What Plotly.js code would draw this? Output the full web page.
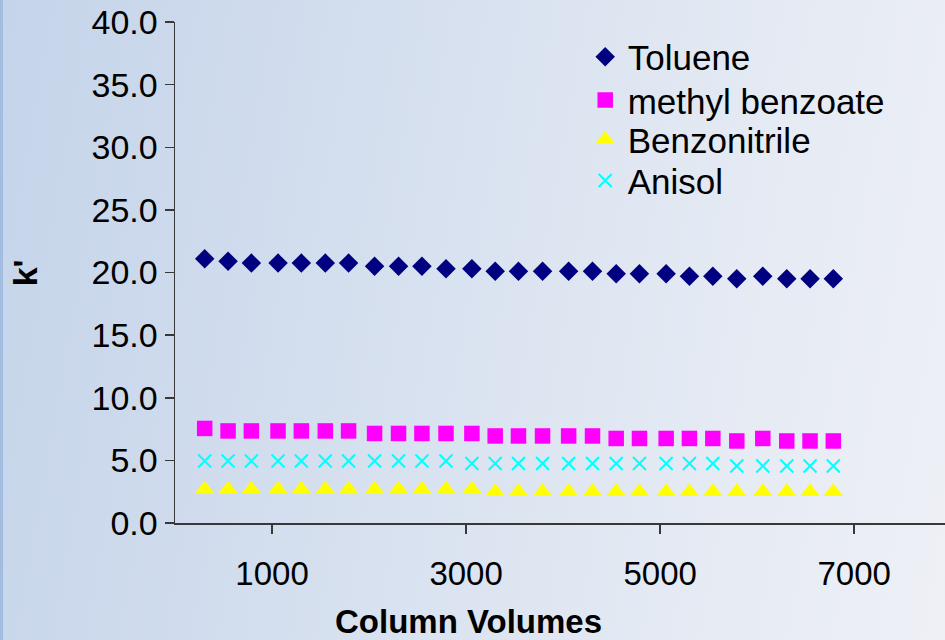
<!DOCTYPE html>
<html>
<head>
<meta charset="utf-8">
<script src="https://cdn.plot.ly/plotly-3.0.1.min.js"></script>
<style>
  html, body { margin: 0; padding: 0; width: 945px; height: 640px; overflow: hidden; }
  body {
    background: linear-gradient(100deg, #c5d4ea 0%, #d3deee 35%, #e3e9f3 70%, #eef0f6 100%);
  }
  #edge { position: absolute; left: 0; top: 0; width: 3px; height: 640px; background: #a3bde0; }
  #chart { position: absolute; left: 0; top: 0; width: 945px; height: 640px; }
</style>
</head>
<body>
<div id="edge"></div>
<div id="chart"></div>
<script>
// Column volumes (x) shared by all series
const columnVolumes = [306, 547, 787, 1062, 1302, 1549, 1789, 2057, 2304, 2545, 2793, 3060, 3300, 3540,
  3788, 4057, 4303, 4547, 4787, 5062, 5302, 5543, 5790, 6058, 6305, 6545, 6785];

const toluene = [21.1, 20.9, 20.75, 20.75, 20.75, 20.75, 20.75, 20.5, 20.5, 20.5, 20.3, 20.3, 20.1, 20.1,
  20.1, 20.1, 20.1, 19.9, 19.9, 19.9, 19.7, 19.7, 19.5, 19.7, 19.5, 19.5, 19.5];

const methylBenzoate = [7.55, 7.35, 7.35, 7.35, 7.35, 7.35, 7.35, 7.15, 7.15, 7.15, 7.15, 7.15, 6.95, 6.95,
  6.95, 6.95, 6.95, 6.75, 6.75, 6.75, 6.75, 6.75, 6.55, 6.75, 6.55, 6.55, 6.55];

const benzonitrile = [2.7, 2.7, 2.7, 2.7, 2.7, 2.7, 2.7, 2.7, 2.7, 2.7, 2.7, 2.7, 2.5, 2.5,
  2.5, 2.5, 2.5, 2.5, 2.5, 2.5, 2.5, 2.5, 2.5, 2.5, 2.5, 2.5, 2.5];

const anisol = [4.95, 4.95, 4.95, 4.95, 4.95, 4.95, 4.95, 4.95, 4.95, 4.95, 4.95, 4.75, 4.75, 4.75,
  4.75, 4.75, 4.75, 4.75, 4.75, 4.75, 4.75, 4.75, 4.55, 4.55, 4.55, 4.55, 4.55];

const seriesNames = ["Toluene", "methyl benzoate", "Benzonitrile", "Anisol"];
const xTickVals = [1000, 3000, 5000, 7000];
const xTickText = ["1000", "3000", "5000", "7000"];
const xTitle = "Column Volumes";
const yTitle = "k'";

const FONT = "Arial, 'Liberation Sans', sans-serif";
const AX = "#383838";
const LEGSIZE = 35;

const traces = [
  { x: columnVolumes, y: toluene, name: seriesNames[0], type: "scatter", mode: "markers", legend: "legend",
    marker: { symbol: "diamond", size: 15, color: "#000080" } },
  { x: columnVolumes, y: methylBenzoate, name: seriesNames[1], type: "scatter", mode: "markers", legend: "legend2",
    marker: { symbol: "square", size: 15.5, color: "#ff00ff" } },
  { x: columnVolumes, y: benzonitrile, name: seriesNames[2], type: "scatter", mode: "markers", legend: "legend3",
    marker: { symbol: "triangle-up", size: 17, color: "#ffff00" } },
  { x: columnVolumes, y: anisol, name: seriesNames[3], type: "scatter", mode: "markers", legend: "legend4",
    marker: { symbol: "x-thin", size: 13, color: "#00ffff", line: { color: "#00ffff", width: 2 } } }
];

function leg(yc) {
  return {
    x: 0.5295, y: yc, xanchor: "left", yanchor: "middle",
    bgcolor: "rgba(0,0,0,0)", borderwidth: 0,
    font: { family: FONT, size: LEGSIZE, color: "#000" },
    itemwidth: 35
  };
}

const layout = {
  width: 945, height: 640,
  margin: { l: 175, r: 0, t: 22, b: 117, pad: 0 },
  paper_bgcolor: "rgba(0,0,0,0)",
  plot_bgcolor: "rgba(0,0,0,0)",
  font: { family: FONT, color: "#000" },
  showlegend: true,
  legend: leg(0.930),
  legend2: leg(0.844),
  legend3: leg(0.766),
  legend4: leg(0.683),
  xaxis: {
    range: [0, 7936],
    tickmode: "array", tickvals: xTickVals, ticktext: xTickText,
    showgrid: false, zeroline: false,
    showline: true, linecolor: AX, linewidth: 1.5,
    ticks: "outside", ticklen: 9, tickcolor: AX, tickwidth: 1.5,
    tickfont: { family: FONT, size: 33, color: "#000" },
    ticklabelstandoff: 12
  },
  yaxis: {
    range: [0, 40],
    tickmode: "linear", tick0: 0, dtick: 5, tickformat: ".1f",
    showgrid: false, zeroline: false,
    showline: true, linecolor: AX, linewidth: 1.5,
    ticks: "outside", ticklen: 9, tickcolor: AX, tickwidth: 1.5,
    tickfont: { family: FONT, size: 34, color: "#000" },
    ticklabelstandoff: 0
  },
  annotations: [
    { text: "<b>" + xTitle + "</b>", xref: "paper", yref: "paper",
      x: 0.381, y: -0.196, xanchor: "center", yanchor: "middle", showarrow: false,
      font: { family: FONT, size: 33, color: "#000" } },
    { text: "<b>" + yTitle + "</b>", xref: "paper", yref: "paper",
      x: -0.195, y: 0.5, xanchor: "center", yanchor: "middle", textangle: -90, showarrow: false,
      font: { family: FONT, size: 34, color: "#000" } }
  ]
};

Plotly.newPlot("chart", traces, layout, { displayModeBar: false, staticPlot: true });
</script>
</body>
</html>
